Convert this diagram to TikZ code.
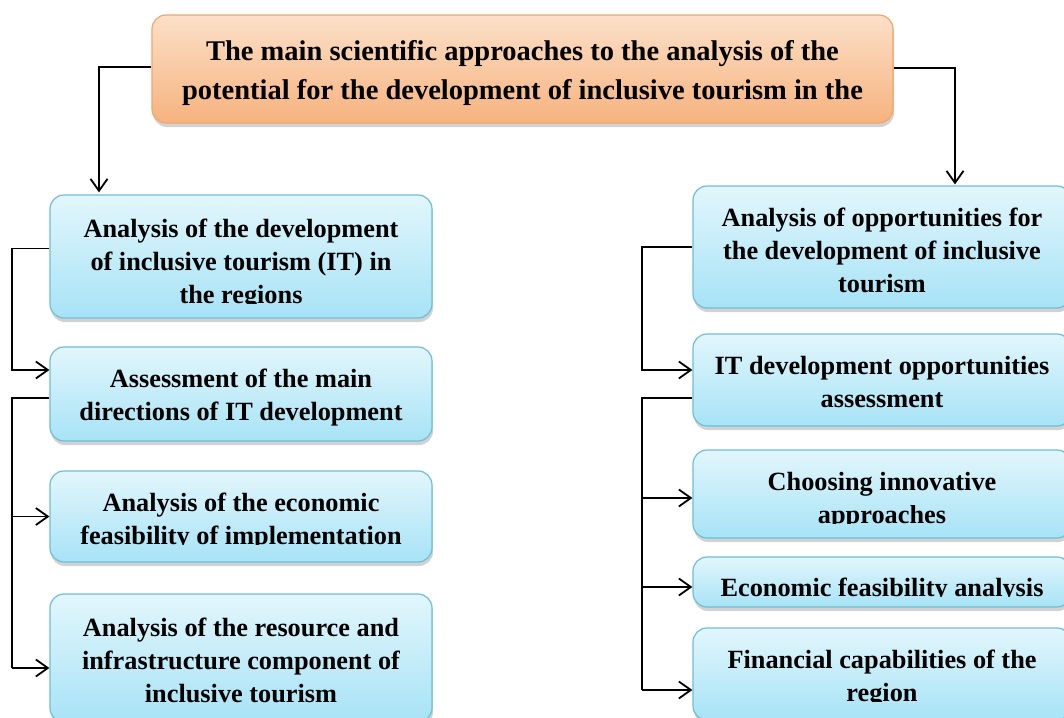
\documentclass[tikz,border=0pt]{standalone}
\usepackage{fontspec}
\setmainfont{Liberation Serif}
\usepackage{trimclip}
\usetikzlibrary{arrows.meta,shadows,calc}
\newcommand\fstr{\rule{0pt}{20pt}}
\newcommand\lstr{\rule[-6pt]{0pt}{6pt}}
\newcommand\cutl[1]{\clipbox{0pt {\depth} 0pt 0pt}{#1}}
\tikzset{
  base/.style={rounded corners=14pt, line width=1.2pt, inner sep=0pt,
    drop shadow={shadow xshift=1pt, shadow yshift=-4pt, opacity=0.35, fill=gray}},
  topbox/.style={base, draw=orgline, top color=orgtop, bottom color=orgbot},
  bluebox/.style={base, draw=blueline, top color=bluetop, bottom color=bluebot},
  txt/.style={inner sep=0pt, align=center, font=\fontsize{26.3}{33}\selectfont\bfseries},
  toptxt/.style={inner sep=0pt, align=center, font=\fontsize{28.5}{39}\selectfont\bfseries},
  conn/.style={draw=black, line width=1.8pt},
  arr/.style={conn, -{Straight Barb[length=12pt,width=17pt,line width=1.8pt]}}
}
\definecolor{orgline}{HTML}{F2A76B}
\definecolor{orgtop}{HTML}{FCE0C8}
\definecolor{orgbot}{HTML}{F6B27E}
\definecolor{blueline}{HTML}{6CBFD6}
\definecolor{bluetop}{HTML}{E2F6FC}
\definecolor{bluebot}{HTML}{A7E3F6}
\begin{document}
\begin{tikzpicture}[x=1pt,y=-1pt]
\clip (0,0) rectangle (1064,717);
\fill[white] (0,0) rectangle (1064,717);
\node[topbox, minimum width=741pt, minimum height=108pt,
  label={[toptxt, yshift=-3.75pt]center:{\rule{0pt}{21pt}The main scientific approaches to the analysis of the\\potential for the development of inclusive tourism in the\rule[-6.5pt]{0pt}{6.5pt}}}] (top) at (522.5,69) {};
% left column
\node[bluebox, minimum width=382pt, minimum height=123pt,
  label={[txt, yshift=-6.5pt]center:{\fstr Analysis of the development\\of inclusive tourism (IT) in\\\cutl{the regions}\lstr}}] (L1) at (241,256.5) {};
\node[bluebox, minimum width=382pt, minimum height=94pt,
  label={[txt, yshift=-2.5pt]center:{\fstr Assessment of the main\\directions of IT development\lstr}}] (L2) at (241,394) {};
\node[bluebox, minimum width=382pt, minimum height=91pt,
  label={[txt, yshift=-4pt]center:{\fstr Analysis of the economic\\\cutl{feasibility of implementation}\lstr}}] (L3) at (241,516.5) {};
\node[bluebox, minimum width=382pt, minimum height=128pt,
  label={[txt, yshift=-4pt]center:{\fstr Analysis of the resource and\\infrastructure component of\\inclusive tourism\lstr}}] (L4) at (241,658) {};
% right column
\node[bluebox, minimum width=378pt, minimum height=122pt,
  label={[txt, yshift=-5pt]center:{\fstr Analysis of opportunities for\\the development of inclusive\\tourism\lstr}}] (R1) at (882,247) {};
\node[bluebox, minimum width=378pt, minimum height=92pt,
  label={[txt, yshift=-4pt]center:{\fstr IT development opportunities\\assessment\lstr}}] (R2) at (882,380) {};
\node[bluebox, minimum width=378pt, minimum height=88pt,
  label={[txt, yshift=-6pt]center:{\fstr Choosing innovative\\\cutl{approaches}\lstr}}] (R3) at (882,494) {};
\node[bluebox, minimum width=378pt, minimum height=50pt,
  label={[txt, yshift=-7.5pt]center:{\fstr\cutl{Economic feasibility analysis}\lstr}}] (R4) at (882,582) {};
\node[bluebox, minimum width=378pt, minimum height=92pt,
  label={[txt, yshift=-3.5pt]center:{\fstr Financial capabilities of the\\\cutl{region}\lstr}}] (R5) at (882,674) {};
% connectors
\draw[arr] ([yshift=2pt]top.west) -| ([xshift=-142pt,yshift=2pt]L1.north);
\draw[arr] ([yshift=1pt]top.east) -| ([xshift=73pt,yshift=1pt]R1.north);
\coordinate (lx) at (12,0);
\coordinate (rx) at (642,0);
\draw[arr] ([yshift=8pt]L1.west) -| ([yshift=24pt]L2.west -| lx) -- ([yshift=24pt]L2.west);
\draw[conn] ([yshift=-4pt]L2.west) -| ([yshift=-10pt]L4.west -| lx);
\draw[arr] (L3.west -| lx) -- (L3.west);
\draw[arr] ([yshift=-10pt]L4.west -| lx) -- ([yshift=-10pt]L4.west);
\draw[arr] (R1.west) -| ([yshift=10pt]R2.west -| rx) -- ([yshift=10pt]R2.west);
\draw[conn] ([yshift=-18pt]R2.west) -| ([yshift=-16pt]R5.west -| rx);
\draw[arr] ([yshift=-4pt]R3.west -| rx) -- ([yshift=-4pt]R3.west);
\draw[arr] ([yshift=-5pt]R4.west -| rx) -- ([yshift=-5pt]R4.west);
\draw[arr] ([yshift=-16pt]R5.west -| rx) -- ([yshift=-16pt]R5.west);
\end{tikzpicture}
\end{document}
